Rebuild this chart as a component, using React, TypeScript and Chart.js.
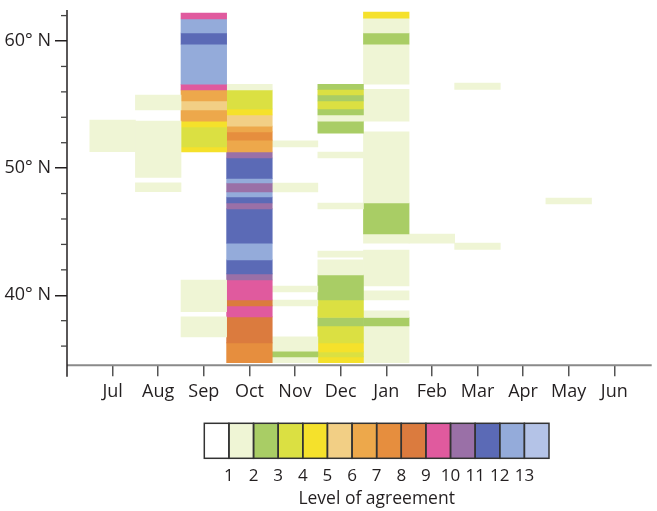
import { useEffect, useRef } from 'react';
import { Chart, registerables } from 'chart.js';

Chart.register(...registerables);

const FONT = '"Open Sans", "Noto Sans", sans-serif';
const TEXT = '#231f20';

const months = ['Jul', 'Aug', 'Sep', 'Oct', 'Nov', 'Dec', 'Jan', 'Feb', 'Mar', 'Apr', 'May', 'Jun'];

// colour for each level of agreement (index 0 = none)
const levelColors = [
  '#ffffff', '#eff5d5', '#a9cd65', '#dbe042', '#f5e12b', '#f2cf85', '#eda84b',
  '#e68e3e', '#db7b3e', '#e05a9e', '#9a70a7', '#5b6ab6', '#94abda', '#b4c3e7',
];
const levelLabels = ['1', '2', '3', '4', '5', '6', '7', '8', '9', '10', '11', '12', '13'];
const legendTitle = 'Level of agreement';

const latTicks = [40, 50, 60];
const minorLatTicks = [36, 38, 42, 44, 46, 48, 52, 54, 56, 58, 62];

// each segment: [northern latitude, southern latitude, level]
type Seg = [number, number, number];

const jul: Seg[] = [[53.78, 51.29, 1]];
const aug: Seg[] = [[55.75, 54.57, 1], [53.7, 49.27, 1], [48.85, 48.15, 1]];
const sep: Seg[] = [
  [62.2, 61.73, 9], [61.73, 60.63, 12], [60.63, 59.76, 11], [59.76, 56.6, 12],
  [56.6, 56.15, 9], [56.15, 55.28, 6], [55.28, 54.57, 5], [54.57, 53.7, 6],
  [53.7, 53.24, 4], [53.24, 51.66, 3], [51.66, 51.27, 4],
  [41.2, 38.7, 1], [38.3, 36.73, 1],
];
const oct: Seg[] = [
  [56.6, 56.15, 1], [56.15, 54.65, 3], [54.65, 54.18, 4], [54.18, 53.3, 5],
  [53.3, 52.85, 6], [52.85, 52.2, 7], [52.2, 51.27, 6], [51.27, 50.8, 10],
  [50.8, 49.2, 11], [49.2, 48.83, 12], [48.83, 48.13, 10], [48.13, 47.73, 12],
  [47.73, 47.26, 11], [47.26, 46.8, 10], [46.8, 44.1, 11], [44.1, 42.78, 12],
  [42.78, 41.68, 11], [41.68, 41.2, 10], [41.2, 39.63, 9], [39.63, 39.16, 8],
  [39.16, 38.3, 9], [38.3, 36.26, 8], [36.26, 34.7, 7],
];
const nov: Seg[] = [
  [52.14, 51.66, 1], [48.83, 48.13, 1], [40.73, 40.26, 1], [39.63, 39.16, 1],
  [36.73, 35.6, 1], [35.6, 35.15, 2], [35.15, 34.7, 1],
];
const dec: Seg[] = [
  [56.6, 56.2, 2], [56.2, 55.75, 3], [55.75, 55.28, 2], [55.28, 54.65, 3],
  [54.65, 54.18, 2], [54.18, 53.7, 1], [53.7, 52.76, 2], [51.27, 50.8, 1],
  [47.26, 46.8, 1], [43.47, 43.0, 1], [42.78, 41.6, 1], [41.6, 39.63, 2],
  [39.63, 38.25, 3], [38.25, 37.58, 2], [37.58, 36.25, 3], [36.25, 35.54, 4],
  [35.54, 35.15, 3], [35.15, 34.7, 4],
];
const jan: Seg[] = [
  [62.28, 61.8, 4], [61.8, 60.63, 1], [60.63, 59.76, 2], [59.76, 56.6, 1],
  [56.2, 53.7, 1], [52.85, 47.26, 1], [47.26, 44.82, 2], [44.82, 44.1, 1],
  [43.55, 40.73, 1], [40.34, 39.63, 1], [38.78, 38.25, 1], [38.25, 37.58, 2],
  [37.58, 34.7, 1],
];
const feb: Seg[] = [[44.82, 44.1, 1]];
const mar: Seg[] = [[56.7, 56.2, 1], [44.1, 43.6, 1]];
const apr: Seg[] = [];
const may: Seg[] = [[47.65, 47.18, 1]];
const jun: Seg[] = [];

const columns = [jul, aug, sep, oct, nov, dec, jan, feb, mar, apr, may, jun];

const axisPlugin = {
  id: 'axisExtras',
  afterDraw(chart: any) {
    const { ctx, chartArea } = chart;
    const y = chart.scales.y;
    ctx.save();
    ctx.strokeStyle = '#8a8a8a';
    ctx.lineWidth = 2;
    ctx.beginPath();
    ctx.moveTo(chartArea.left, chartArea.bottom);
    ctx.lineTo(chartArea.right, chartArea.bottom);
    ctx.stroke();

    ctx.strokeStyle = '#231f20';
    ctx.lineWidth = 1.5;
    ctx.beginPath();
    ctx.moveTo(chartArea.left, chartArea.top);
    ctx.lineTo(chartArea.left, chartArea.bottom + 11.5);
    ctx.stroke();

    ctx.lineWidth = 1.3;
    ctx.strokeStyle = '#444';
    minorLatTicks.forEach((v) => {
      const py = y.getPixelForValue(v);
      ctx.beginPath();
      ctx.moveTo(chartArea.left - 6, py);
      ctx.lineTo(chartArea.left, py);
      ctx.stroke();
    });
    ctx.restore();
  },
};

const legendPlugin = {
  id: 'levelLegend',
  afterDraw(chart: any) {
    const { ctx } = chart;
    const x0 = 204.3;
    const x1 = 549;
    const top = 423.3;
    const h = 35;
    const n = levelColors.length;
    const w = (x1 - x0) / n;
    ctx.save();
    levelColors.forEach((c, i) => {
      ctx.fillStyle = c;
      ctx.fillRect(x0 + i * w, top, w, h);
    });
    ctx.strokeStyle = '#333';
    ctx.lineWidth = 1.5;
    levelColors.forEach((_, i) => {
      ctx.strokeRect(x0 + i * w, top, w, h);
    });
    ctx.fillStyle = TEXT;
    ctx.font = `17px ${FONT}`;
    ctx.textAlign = 'center';
    ctx.textBaseline = 'alphabetic';
    levelLabels.forEach((t, i) => {
      ctx.fillText(t, x0 + (i + 1) * w, 481);
    });
    ctx.font = `17.5px ${FONT}`;
    ctx.fillText(legendTitle, (x0 + x1) / 2, 504);
    ctx.restore();
  },
};

export default function App() {
  const ref = useRef<HTMLCanvasElement | null>(null);

  useEffect(() => {
    if (!ref.current) return;
    const datasets: any[] = [];
    columns.forEach((col, i) => {
      col.forEach(([north, south, level]) => {
        datasets.push({
          data: [{ x: i, y: [south, north] }],
          backgroundColor: levelColors[level],
          borderWidth: 0,
          grouped: false,
          categoryPercentage: 1,
          barPercentage: 1,
        });
      });
    });

    const chart = new Chart(ref.current, {
      type: 'bar',
      data: { datasets },
      options: {
        animation: false,
        responsive: false,
        events: [],
        layout: { padding: { left: 0, top: 10, right: 5.3, bottom: 0 } },
        plugins: { legend: { display: false }, tooltip: { enabled: false } },
        scales: {
          x: {
            type: 'linear',
            offset: false,
            min: -1,
            max: 11.82,
            afterBuildTicks: (s: any) => {
              s.ticks = months.map((_, i) => ({ value: i }));
            },
            afterFit: (s: any) => {
              s.height = 145.7;
              s.paddingLeft = 0;
              s.paddingRight = 0;
            },
            grid: {
              display: true,
              offset: false,
              drawOnChartArea: false,
              drawTicks: true,
              tickLength: 11,
              color: '#555',
              lineWidth: 1.5,
            },
            border: { display: false },
            ticks: {
              autoSkip: false,
              maxRotation: 0,
              padding: 5,
              color: TEXT,
              font: { family: FONT, size: 18 },
              callback: (v: any) => months[v] ?? '',
            },
          },
          y: {
            type: 'linear',
            min: 34.49,
            max: 62.44,
            afterBuildTicks: (s: any) => {
              s.ticks = latTicks.map((v) => ({ value: v }));
            },
            afterFit: (s: any) => {
              s.width = 67;
              s.paddingTop = 0;
              s.paddingBottom = 0;
            },
            grid: {
              display: true,
              drawOnChartArea: false,
              drawTicks: true,
              tickLength: 12,
              color: '#231f20',
              lineWidth: 1.5,
            },
            border: { display: false },
            ticks: {
              padding: 4,
              color: TEXT,
              font: { family: FONT, size: 18 },
              callback: (v: any) => `${v}° N`,
            },
          },
        },
      },
      plugins: [axisPlugin, legendPlugin],
    } as any);

    return () => chart.destroy();
  }, []);

  return (
    <div style={{ position: 'fixed', left: 0, top: 0, width: 657, height: 511, background: '#fff' }}>
      <canvas ref={ref} width={657} height={511} style={{ display: 'block' }} />
    </div>
  );
}
